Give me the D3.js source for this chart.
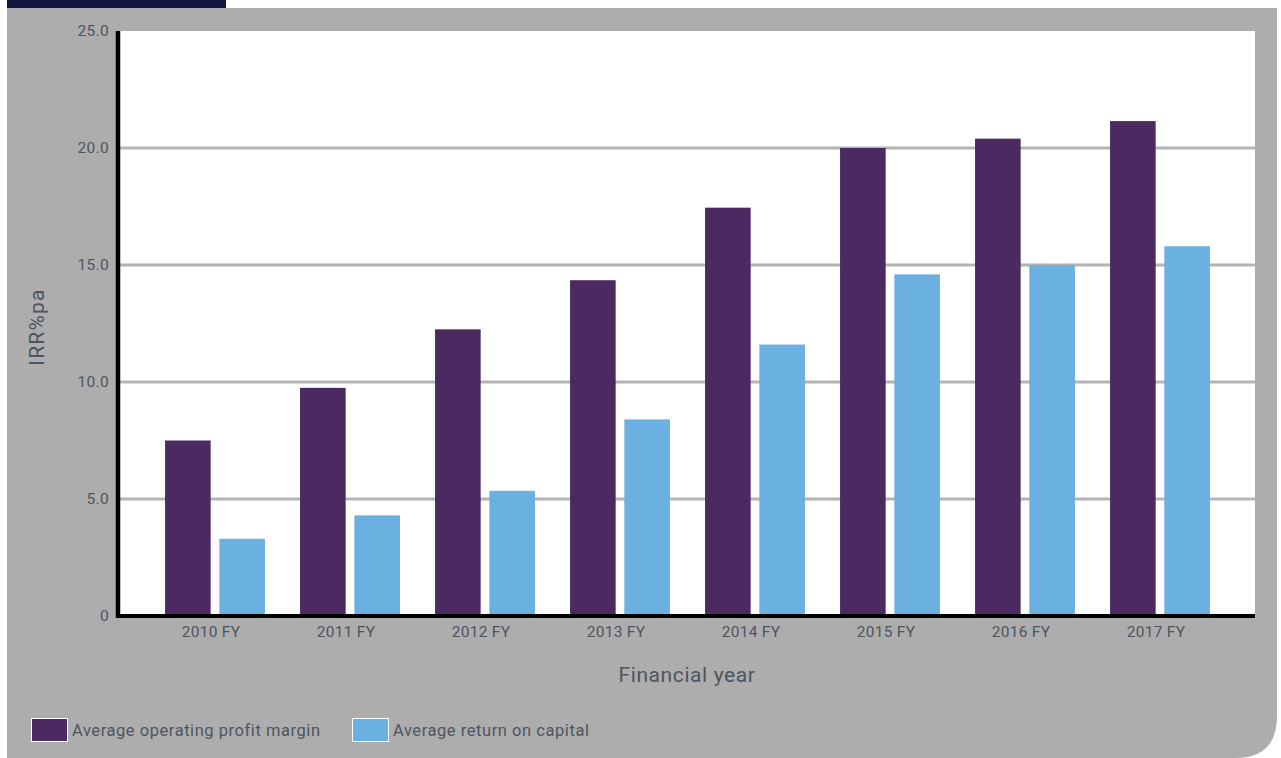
<!DOCTYPE html>
<html>
<head>
<meta charset="utf-8">
<script src="https://cdn.jsdelivr.net/npm/d3@7"></script>
<style>
  html, body { margin: 0; padding: 0; background: #ffffff; }
  svg { display: block; font-family: Roboto, "Noto Sans", sans-serif; }
</style>
</head>
<body>
<svg id="chart" width="1281" height="758"></svg>
<script>
// Financial years shown on the x axis
const years = ["2010 FY", "2011 FY", "2012 FY", "2013 FY", "2014 FY", "2015 FY", "2016 FY", "2017 FY"];
// Series values (% p.a.)
const operatingMargin = [7.5, 9.75, 12.25, 14.35, 17.45, 20.0, 20.4, 21.15];
const returnOnCapital = [3.3, 4.3, 5.35, 8.4, 11.6, 14.6, 15.0, 15.8];
const seriesNames = ["Average operating profit margin", "Average return on capital"];
const yTicks = [0, 5, 10, 15, 20, 25];

const colors = { margin: "#4b2a62", capital: "#6ab0e0", panel: "#adadad", tab: "#15163f", text: "#4d5560", grid: "#b4b4b4" };

const svg = d3.select("#chart");

// Grey panel with rounded bottom-right corner
const P = { x0: 7, y0: 8, x1: 1277, y1: 758, r: 42 };
svg.append("path")
  .attr("d", `M${P.x0},${P.y0} H${P.x1} V${P.y1 - P.r} Q${P.x1},${P.y1} ${P.x1 - P.r},${P.y1} H${P.x0} Z`)
  .attr("fill", colors.panel);
// Dark tab along the top edge
svg.append("rect").attr("x", 7).attr("y", 0).attr("width", 219).attr("height", 8).attr("fill", colors.tab);

// Plot area
const plot = { left: 118, right: 1255, top: 31, bottom: 616 };
svg.append("rect")
  .attr("x", plot.left).attr("y", plot.top)
  .attr("width", plot.right - plot.left).attr("height", plot.bottom - plot.top)
  .attr("fill", "#ffffff");

const y = d3.scaleLinear().domain([0, 25]).range([plot.bottom, plot.top]);
const x0 = d3.scaleBand().domain(years).range([147.5, 1227.5]).paddingInner(0.26).paddingOuter(0.13);
const x1 = d3.scaleBand().domain(["margin", "capital"]).range([0, x0.bandwidth()]).paddingInner(0.16);

// Horizontal gridlines
svg.append("g")
  .selectAll("line")
  .data(yTicks.filter(t => t > 0 && t < 25))
  .join("line")
  .attr("x1", plot.left).attr("x2", plot.right)
  .attr("y1", d => y(d)).attr("y2", d => y(d))
  .attr("stroke", colors.grid).attr("stroke-width", 3);

// Bars
const rows = years.map((yr, i) => ({ yr, margin: operatingMargin[i], capital: returnOnCapital[i] }));
const groups = svg.append("g").selectAll("g")
  .data(rows).join("g")
  .attr("transform", d => `translate(${x0(d.yr)},0)`);
groups.selectAll("rect")
  .data(d => [{ k: "margin", v: d.margin }, { k: "capital", v: d.capital }])
  .join("rect")
  .attr("x", d => x1(d.k))
  .attr("width", x1.bandwidth())
  .attr("y", d => y(d.v))
  .attr("height", d => y(0) - y(d.v))
  .attr("fill", d => colors[d.k]);

// Y axis
const yAxis = svg.append("g")
  .attr("transform", `translate(${plot.left},0)`)
  .call(d3.axisLeft(y).tickValues(yTicks).tickFormat(d => d === 0 ? "0" : d3.format(".1f")(d)).tickSize(0).tickPadding(9));
yAxis.select(".domain").remove();
yAxis.selectAll("text").attr("fill", colors.text).style("font-size", "15.5px").style("letter-spacing", "0.3px").style("font-family", "Roboto, sans-serif");

// X axis
const xAxis = svg.append("g")
  .attr("transform", `translate(0,${plot.bottom})`)
  .call(d3.axisBottom(x0).tickSize(0).tickPadding(10));
xAxis.select(".domain").remove();
xAxis.selectAll("text").attr("fill", colors.text).style("font-size", "15.5px").style("letter-spacing", "0.3px").style("font-family", "Roboto, sans-serif").attr("dx", "-4");

// Heavy axis lines
svg.append("line").attr("x1", plot.left).attr("x2", plot.left).attr("y1", plot.top).attr("y2", plot.bottom + 2)
  .attr("stroke", "#000").attr("stroke-width", 4.5);
svg.append("line").attr("x1", plot.left - 2).attr("x2", plot.right).attr("y1", plot.bottom).attr("y2", plot.bottom)
  .attr("stroke", "#000").attr("stroke-width", 4);

// Axis titles
svg.append("text").attr("x", 687).attr("y", 682).attr("text-anchor", "middle")
  .attr("fill", colors.text).style("font-size", "21px").style("letter-spacing", "0.6px").text("Financial year");
svg.append("text").attr("transform", "translate(44,327) rotate(-90)").attr("text-anchor", "middle")
  .attr("fill", colors.text).style("font-size", "21px").style("letter-spacing", "1.2px").text("IRR%pa");

// Legend
const legend = svg.append("g");
const legendItems = [
  { name: seriesNames[0], color: colors.margin, x: 31 },
  { name: seriesNames[1], color: colors.capital, x: 352 }
];
const li = legend.selectAll("g").data(legendItems).join("g")
  .attr("transform", d => `translate(${d.x},718)`);
li.append("rect").attr("x", 0.5).attr("y", 0.5).attr("width", 36).attr("height", 23)
  .attr("fill", d => d.color).attr("stroke", "#ffffff").attr("stroke-width", 1);
li.append("text").attr("x", 41).attr("y", 18).attr("fill", colors.text)
  .style("font-size", "16.5px").style("letter-spacing", "0.55px").text(d => d.name);
</script>
</body>
</html>
